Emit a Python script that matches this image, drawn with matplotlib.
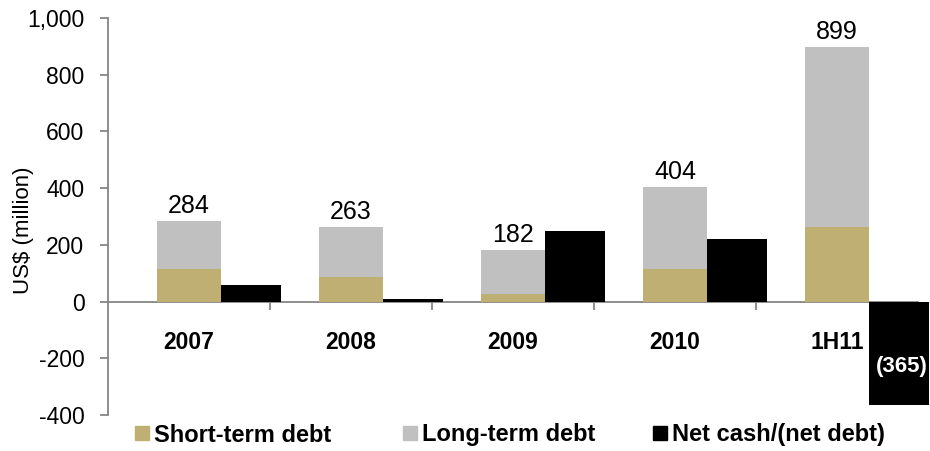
import matplotlib.pyplot as plt
from matplotlib.ticker import FuncFormatter, FixedLocator
from matplotlib.lines import Line2D

plt.rcParams['font.family'] = ['Liberation Sans', 'DejaVu Sans']

periods = ['2007', '2008', '2009', '2010', '1H11']
short_term = [115, 85, 25, 115, 264]
total_debt = [284, 263, 182, 404, 899]
long_term = [t - s for t, s in zip(total_debt, short_term)]
net_cash = [57, 10, 250, 221, -365]

series_names = ['Short-term debt', 'Long-term debt', 'Net cash/(net debt)']

gold = '#BFAF73'
silver = '#C0C0C0'
axis_grey = '#868686'

fig = plt.figure(figsize=(9.3, 4.51), dpi=100)
ax = fig.add_axes([108/930, 36/451, 810/930, 397/451])

x = list(range(len(periods)))
w_debt = 0.39
w_net = 0.37

ax.bar(x, short_term, width=w_debt, color=gold, zorder=2)
ax.bar(x, long_term, width=w_debt, bottom=short_term, color=silver, zorder=2)
net_x = [i + w_debt/2 for i in x]
ax.bar(net_x, net_cash, width=w_net, align='edge', color='black', zorder=3, clip_on=False)

# total debt on top of the stacked bars
for i, t in zip(x, total_debt):
    ax.annotate(f'{t:,}', (i, t), xytext=(0, 2), textcoords='offset points',
                ha='center', va='bottom', fontsize=18)

# net debt shown in brackets inside the bar
for i, v in zip(net_x, net_cash):
    if v < 0:
        ax.text(i + w_net/2 + 0.02, v*0.63, f'({-v:,})', ha='center', va='center',
                color='white', fontsize=16, fontweight='bold', zorder=4, clip_on=False)

ax.set_xlim(-0.5, 4.5)
ax.set_ylim(-400, 1000)
ax.set_yticks(range(-400, 1001, 200))
ax.yaxis.set_major_formatter(FuncFormatter(lambda v, p: f'{v:,.0f}'))
ax.set_ylabel('US$ (million)', fontsize=16)
ax.yaxis.set_label_coords(-0.091, 0.466)

for s in ['top', 'right']:
    ax.spines[s].set_visible(False)
ax.spines['left'].set_color(axis_grey)
ax.spines['left'].set_linewidth(1.3)
ax.spines['bottom'].set_position(('data', 0))
ax.spines['bottom'].set_color(axis_grey)
ax.spines['bottom'].set_linewidth(1.3)
ax.spines['bottom'].set_zorder(1)

ax.set_xticks(x)
ax.set_xticklabels(periods, fontsize=16.5, fontweight='bold')
ax.xaxis.set_minor_locator(FixedLocator([0.5, 1.5, 2.5, 3.5]))
ax.tick_params(axis='x', which='major', length=0, pad=21)
ax.tick_params(axis='x', which='minor', length=6, width=1.3, color=axis_grey)
ax.tick_params(axis='y', length=6, width=1.3, color=axis_grey, labelsize=16.5, pad=11)

# one legend entry per series, spaced like the original layout
colors = [gold, silver, 'black']
starts = [135, 403, 653]
for name, c, x0 in zip(series_names, colors, starts):
    h = Line2D([], [], marker='s', ls='', color=c, markersize=10.5)
    fig.legend([h], [name], loc='center left', bbox_to_anchor=(x0/930, 16/451),
               frameon=False, prop={'weight': 'bold', 'size': 17},
               handlelength=0.6, handletextpad=0.2, borderpad=0, borderaxespad=0)

fig.savefig('out.png', dpi=100)
